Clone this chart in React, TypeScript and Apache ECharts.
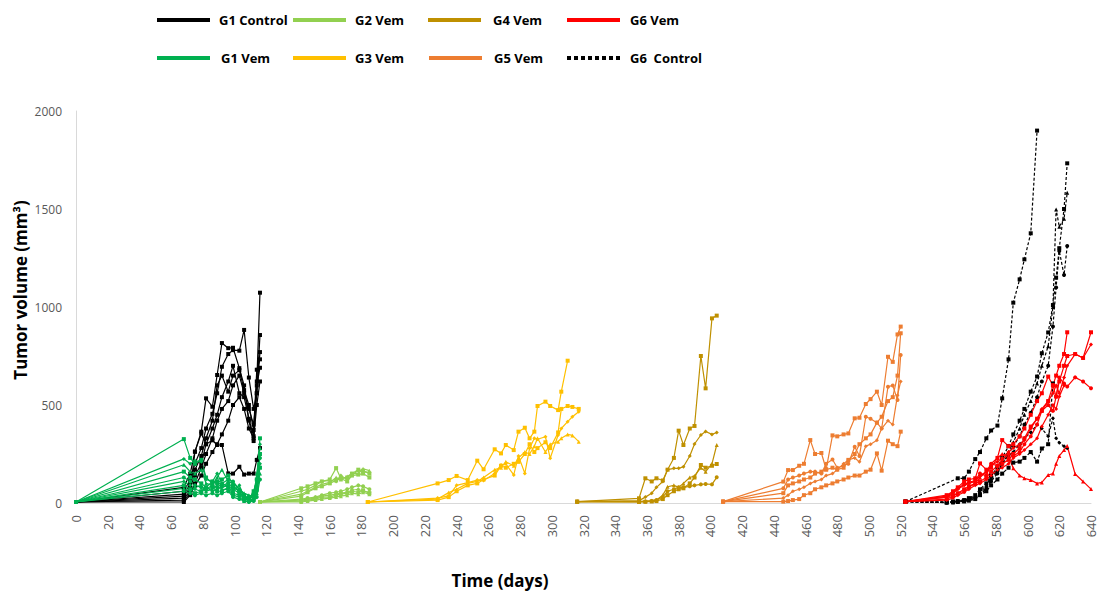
import React, { useEffect, useRef } from "react";
import * as echarts from "echarts";

// ---- X (days) and Y tick settings ----
const xTickMax = 640;
const xTickStep = 20;
const yTickMax = 2000;
const yTickStep = 500;

// ---- Group 1 (days 0..116) ----
const g1Days = [0, 68, 72, 75, 79, 82, 86, 89, 92, 96, 99, 103, 106, 109, 112, 114, 116];
const g1ControlMice = [
  [5, 80, 150, 262, 364, 534, 491, 653, 816, 790, 792, 688, 600, 420, 316, 620, 1073],
  [5, 60, 120, 200, 280, 380, 455, 560, 695, 760, 780, 777, 883, 640, 480, 560, 857],
  [5, 45, 100, 170, 240, 330, 420, 600, 650, 568, 650, 678, 576, 500, 372, 680, 733],
  [5, 35, 80, 140, 200, 300, 380, 450, 540, 620, 700, 560, 540, 430, 340, 600, 690],
  [5, 25, 60, 262, 355, 300, 320, 296, 296, 151, 150, 185, 145, 150, 150, 220, 280],
  [5, 15, 50, 100, 180, 250, 330, 420, 480, 520, 600, 650, 560, 480, 400, 560, 770],
  [5, 5, 40, 90, 140, 200, 260, 300, 350, 420, 500, 540, 480, 380, 330, 500, 620],
];
const g1VemMice = [
  [5, 326, 230, 200, 220, 130, 100, 110, 90, 100, 80, 60, 40, 20, 60, 120, 330],
  [5, 225, 200, 215, 211, 120, 110, 150, 100, 80, 60, 90, 30, 10, 20, 100, 300],
  [5, 195, 160, 150, 170, 100, 90, 130, 170, 110, 100, 70, 50, 40, 30, 150, 280],
  [5, 160, 130, 120, 100, 80, 110, 100, 120, 140, 90, 60, 20, 30, 40, 80, 250],
  [5, 130, 110, 90, 80, 70, 90, 80, 100, 120, 110, 70, 40, 20, 50, 120, 230],
  [5, 110, 90, 70, 60, 80, 60, 70, 80, 90, 70, 50, 30, 25, 30, 60, 200],
  [5, 90, 70, 50, 60, 70, 80, 60, 60, 80, 50, 40, 20, 15, 20, 70, 180],
  [5, 75, 60, 80, 90, 60, 70, 90, 70, 70, 40, 30, 10, 10, 15, 50, 150],
  [5, 60, 50, 40, 50, 40, 50, 40, 50, 60, 30, 20, 10, 5, 10, 30, 120],
];

// ---- Group 2 ----
const g2Days = [116, 142, 146, 151, 155, 160, 164, 167, 171, 174, 178, 181, 185];
const g2VemMice = [
  [5, 75, 85, 100, 110, 120, 178, 125, 130, 150, 170, 165, 150],
  [5, 60, 70, 90, 110, 115, 110, 140, 120, 145, 165, 160, 155],
  [5, 45, 60, 80, 95, 105, 130, 120, 135, 150, 150, 175, 165],
  [5, 35, 55, 75, 85, 100, 115, 125, 110, 140, 145, 150, 130],
  [5, 20, 25, 30, 40, 50, 55, 60, 70, 80, 90, 85, 70],
  [5, 15, 20, 25, 35, 40, 45, 50, 55, 65, 70, 60, 55],
  [5, 10, 15, 20, 30, 30, 40, 45, 50, 60, 55, 65, 50],
  [5, 5, 10, 15, 20, 25, 30, 35, 40, 50, 45, 55, 45],
];

// ---- Group 3 ----
const g3Days = [184, 228, 235, 240, 247, 253, 257, 264, 268, 271, 276, 279, 283, 286, 289, 291, 296, 299, 304, 306, 310, 313, 317];
const g3VemMice = [
  [5, 100, 117, 138, 117, 216, 172, 274, 253, 296, 270, 364, 384, 330, 364, 495, 517, 495, 474, 568, 726, null, null],
  [5, 25, 36, 90, 104, 117, 115, 151, 194, 200, 143, 240, 151, 279, 330, 325, 338, 228, 347, 380, 415, 440, 466],
  [5, 20, 53, 70, 100, 110, 130, 170, 180, 210, 190, 230, 260, 250, 290, 330, 260, 300, 313, 330, 350, 345, 313],
  [5, 15, 30, 60, 90, 100, 120, 140, 190, 180, 200, 210, 250, 300, 260, 280, 310, 280, 360, 480, 495, 490, 480],
];

// ---- Group 4 ----
const g4Days = [316, 355, 359, 363, 366, 370, 373, 377, 380, 383, 387, 390, 394, 397, 401, 404];
const g4VemMice = [
  [7, 24, 126, 110, 126, 115, 170, 230, 369, 296, 380, 393, 750, 585, 942, 956],
  [7, 12, 30, 50, 80, 110, 170, 177, 177, 185, 240, 301, 347, 365, 350, 360],
  [7, 8, 10, 12, 15, 40, 83, 90, 80, 100, 130, 138, 180, 160, 200, 296],
  [7, 5, 6, 8, 10, 20, 40, 60, 70, 75, 100, 130, 194, 180, 190, 199],
  [7, 6, 8, 10, 15, 30, 60, 70, 80, 80, 85, 90, 95, 97, 95, 131],
];

// ---- Group 5 ----
const g5Days = [408, 446, 449, 452, 456, 459, 463, 466, 470, 473, 477, 480, 484, 487, 491, 494, 498, 501, 505, 508, 512, 515, 518, 520];
const g5VemMice = [
  [7, 109, 168, 168, 190, 200, 321, 250, 255, 172, 345, 340, 350, 355, 432, 435, 505, 530, 568, 500, 746, 720, 860, 900],
  [7, 75, 120, 130, 140, 150, 160, 160, 150, 200, 222, 180, 190, 200, 287, 240, 440, 430, 410, 380, 593, 600, 525, 755],
  [7, 50, 90, 100, 110, 120, 130, 150, 160, 170, 180, 170, 180, 220, 250, 300, 330, 350, 410, 440, 520, 540, 650, 866],
  [7, 25, 40, 60, 70, 80, 100, 110, 120, 140, 150, 170, 200, 220, 230, 210, 290, 300, 320, 380, 420, 400, 550, 620],
  [7, 7, 10, 15, 20, 40, 50, 70, 80, 90, 100, 110, 120, 130, 140, 140, 160, 170, 253, 165, 318, 300, 290, 364],
];

// ---- Group 6 ----
const g6Days = [523, 549, 553, 556, 560, 563, 567, 570, 574, 577, 581, 584, 588, 591, 595, 598, 602, 606, 609, 613, 616, 618, 620, 623, 625, 630, 635, 640];
const g6ControlMice = [
  [7, null, null, 126, 126, 160, 224, 260, 330, 370, 395, 534, 733, 1022, 1141, 1243, 1376, 1900, null, null, null, null, null, null, null, null, null, null],
  [7, 5, 8, 10, 15, 25, 40, 70, 100, 140, 180, 230, 290, 350, 420, 480, 568, 645, 764, 870, 1010, 1150, 1300, 1500, 1733, null, null, null],
  [7, 3, 5, 8, 12, 20, 35, 60, 90, 130, 170, 210, 260, 310, 380, 450, 520, 610, 700, 800, 1000, 1498, 1410, 1450, 1583, null, null, null],
  [7, 2, 4, 6, 10, 15, 25, 45, 70, 110, 150, 200, 250, 290, 340, 400, 460, 540, 620, 700, 900, 1100, 1286, 1163, 1311, null, null, null],
  [7, 4, 6, 10, 15, 20, 30, 50, 80, 120, 160, 200, 240, 260, 300, 330, 360, 400, 380, 340, 432, 330, 307, 290, 279, null, null, null],
  [7, 2, 3, 5, 8, 12, 20, 40, 60, 90, 120, 150, 180, 206, 211, 230, 260, 211, 278, 300, 610, null, null, null, null, null, null, null],
];
const g6VemMice = [
  [7, 40, 60, 80, 110, 120, 126, 202, 170, 180, 230, 321, 290, 300, 340, 380, 450, 520, 560, 645, 600, 543, 620, 700, 750, 760, 740, 871],
  [7, 30, 50, 70, 90, 100, 110, 140, 160, 190, 210, 230, 260, 280, 300, 320, 380, 430, 480, 520, 560, 600, 560, 640, 700, 760, 740, 809],
  [7, 35, 55, 75, 95, 105, 115, 150, 140, 200, 190, 220, 250, 240, 260, 300, 340, 400, 470, 500, 470, 543, 640, 610, 594, 641, 620, 585],
  [7, 30, 40, 50, 60, 80, 100, 130, 160, 200, 230, 250, 240, 177, 140, 126, 117, 100, 105, 143, 150, 200, 240, 270, 291, 148, 110, 71],
  [7, 20, 35, 50, 70, 85, 100, 110, 130, 160, 190, 200, 220, 250, 280, 330, 390, 430, 470, 520, 600, 650, 700, 760, 871, null, null, null],
  [7, 15, 25, 40, 55, 70, 90, 100, 120, 140, 170, 180, 200, 230, 250, 270, 300, 330, 390, 450, 500, 480, 543, 600, null, null, null, null],
];

// ---- Legend entries (label, colour, dotted) ----
const legendRow1 = [
  { label: "G1 Control", color: "#000000", dotted: false },
  { label: "G2 Vem", color: "#92D050", dotted: false },
  { label: "G4 Vem", color: "#BF9000", dotted: false },
  { label: "G6 Vem", color: "#FF0000", dotted: false },
];
const legendRow2 = [
  { label: "G1 Vem", color: "#00B050", dotted: false },
  { label: "G3 Vem", color: "#FFC000", dotted: false },
  { label: "G5 Vem", color: "#ED7D31", dotted: false },
  { label: "G6  Control", color: "#000000", dotted: true },
];

const FONT = "'Open Sans', 'Liberation Sans', sans-serif";
const symbolCycle = ["rect", "diamond", "triangle", "rect", "circle", "diamond", "rect", "triangle", "circle"];

function buildSeries(
  name: string,
  days: number[],
  mice: (number | null)[][],
  color: string,
  dashed: boolean,
  syms: string[]
) {
  return mice.map((vals, i) => ({
    type: "line",
    name,
    data: days
      .map((d, j) => (vals[j] == null ? null : [d, vals[j]]))
      .filter((p) => p !== null),
    symbol: syms[i % syms.length],
    symbolSize: 4,
    showSymbol: true,
    silent: true,
    lineStyle: { color, width: 1.2, type: dashed ? [3, 2] : "solid" },
    itemStyle: { color },
  }));
}

export default function App() {
  const ref = useRef<HTMLDivElement>(null);
  useEffect(() => {
    if (!ref.current) return;
    const chart = echarts.init(ref.current, undefined, { renderer: "svg" });

    const series = [
      ...buildSeries("G1 Control", g1Days, g1ControlMice, "#000000", false, ["rect"]),
      ...buildSeries("G1 Vem", g1Days, g1VemMice, "#00B050", false, symbolCycle),
      ...buildSeries("G2 Vem", g2Days, g2VemMice, "#92D050", false, symbolCycle),
      ...buildSeries("G3 Vem", g3Days, g3VemMice, "#FFC000", false, symbolCycle),
      ...buildSeries("G4 Vem", g4Days, g4VemMice, "#BF9000", false, symbolCycle),
      ...buildSeries("G5 Vem", g5Days, g5VemMice, "#ED7D31", false, ["rect", "circle", "rect", "diamond", "rect"]),
      ...buildSeries("G6 Control", g6Days, g6ControlMice, "#000000", true, ["rect", "rect", "triangle", "circle", "diamond", "rect"]),
      ...buildSeries("G6 Vem", g6Days, g6VemMice, "#FF0000", false, ["rect", "diamond", "circle", "triangle", "rect", "diamond"]),
    ];

    const legendX = [
      { lx: 157, tx: 219 },
      { lx: 293, tx: 355 },
      { lx: 428, tx: 493 },
      { lx: 567, tx: 630 },
    ];
    const legendX2 = [
      { lx: 157, tx: 221 },
      { lx: 293, tx: 355 },
      { lx: 429, tx: 494 },
      { lx: 567, tx: 630 },
    ];
    const graphics: any[] = [];
    const addRow = (row: typeof legendRow1, pos: typeof legendX, y: number) => {
      row.forEach((it, i) => {
        graphics.push({
          type: "line",
          shape: { x1: pos[i].lx, y1: y, x2: pos[i].lx + 53, y2: y },
          style: {
            stroke: it.color,
            lineWidth: 4,
            lineDash: it.dotted ? [4, 3] : null,
          },
          silent: true,
        });
        graphics.push({
          type: "text",
          x: pos[i].tx,
          y,
          style: {
            text: it.label,
            fill: "#000000",
            font: `bold 13px ${FONT}`,
            textAlign: "left",
            textVerticalAlign: "middle",
          },
          silent: true,
        });
      });
    };
    addRow(legendRow1, legendX, 20);
    addRow(legendRow2, legendX2, 58);

    graphics.push({
      type: "text",
      x: 20,
      y: 290,
      rotation: Math.PI / 2,
      style: {
        text: "Tumor volume (mm³)",
        fill: "#000000",
        font: `bold 17px ${FONT}`,
        textAlign: "center",
        textVerticalAlign: "middle",
      },
      silent: true,
    });
    graphics.push({
      type: "text",
      x: 500,
      y: 580,
      style: {
        text: "Time (days)",
        fill: "#000000",
        font: `bold 17px ${FONT}`,
        textAlign: "center",
        textVerticalAlign: "middle",
      },
      silent: true,
    });

    chart.setOption({
      animation: false,
      backgroundColor: "#ffffff",
      grid: { left: 76, right: 9, top: 111, bottom: 89 },
      xAxis: {
        type: "value",
        min: 0,
        max: xTickMax,
        interval: xTickStep,
        axisLine: { show: true, lineStyle: { color: "#d9d9d9", width: 1 } },
        axisTick: { show: false },
        splitLine: { show: false },
        axisLabel: {
          rotate: 90,
          margin: 12,
          color: "#595959",
          fontSize: 13,
          fontFamily: FONT,
          formatter: (v: number) => String(v),
        },
      },
      yAxis: {
        type: "value",
        min: 0,
        max: yTickMax,
        interval: yTickStep,
        axisLine: { show: true, lineStyle: { color: "#d9d9d9", width: 1 } },
        axisTick: { show: false },
        splitLine: { show: false },
        axisLabel: {
          margin: 14,
          color: "#595959",
          fontSize: 12,
          fontFamily: FONT,
          formatter: (v: number) => String(v),
        },
      },
      graphic: graphics,
      series,
    });

    return () => chart.dispose();
  }, []);

  return (
    <div
      ref={ref}
      style={{ position: "absolute", left: 0, top: 0, width: 1100, height: 592 }}
    />
  );
}
